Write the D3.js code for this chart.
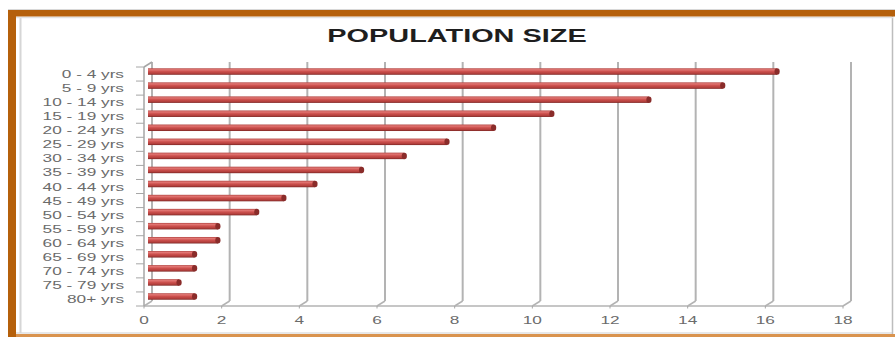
<!DOCTYPE html>
<html>
<head>
<meta charset="utf-8">
<script src="https://cdn.jsdelivr.net/npm/d3@7"></script>
<style>
  html, body { margin: 0; padding: 0; background: #fff; overflow: hidden; }
  svg { display: block; }
  text { font-family: "Liberation Sans", Arial, sans-serif; }
</style>
</head>
<body>
<svg id="chart" width="895" height="337"></svg>
<script>
// Age groups and their share of the population (%)
const categories = ["0 - 4 yrs", "5 - 9 yrs", "10 - 14 yrs", "15 - 19 yrs", "20 - 24 yrs",
  "25 - 29 yrs", "30 - 34 yrs", "35 - 39 yrs", "40 - 44 yrs", "45 - 49 yrs", "50 - 54 yrs",
  "55 - 59 yrs", "60 - 64 yrs", "65 - 69 yrs", "70 - 74 yrs", "75 - 79 yrs", "80+ yrs"];
const values = [16.2, 14.8, 12.9, 10.4, 8.9, 7.7, 6.6, 5.5, 4.3, 3.5, 2.8, 1.8, 1.8, 1.2, 1.2, 0.8, 1.2];
const xTicks = [0, 2, 4, 6, 8, 10, 12, 14, 16, 18];
const chartTitle = "POPULATION SIZE";

const svg = d3.select("#chart");
const W = 895, H = 337;
const stretch = 1.5;           // wide lettering
const depthX = 8, depthY = -5; // 3-D depth offset of the back wall

// frame
svg.append("rect").attr("x", 0).attr("y", 0).attr("width", W).attr("height", H).attr("fill", "#fff");
svg.append("line").attr("x1", 8).attr("x2", W).attr("y1", 9.5).attr("y2", 9.5).attr("stroke", "#d8d8d8").attr("stroke-width", 1);
svg.append("line").attr("x1", 8).attr("x2", W).attr("y1", 335.5).attr("y2", 335.5).attr("stroke", "#d9934e").attr("stroke-width", 3);
svg.append("line").attr("x1", 16).attr("x2", 893).attr("y1", 333).attr("y2", 333).attr("stroke", "#cfcfcf").attr("stroke-width", 1);
svg.append("line").attr("x1", 892.5).attr("x2", 892.5).attr("y1", 16).attr("y2", 334).attr("stroke", "#bdbdbd").attr("stroke-width", 1.5);
svg.append("line").attr("x1", 20.5).attr("x2", 20.5).attr("y1", 17).attr("y2", 333).attr("stroke", "#d6d6d6").attr("stroke-width", 2);
svg.append("line").attr("x1", 16).attr("x2", 893).attr("y1", 17.5).attr("y2", 17.5).attr("stroke", "#e2e2e2").attr("stroke-width", 1.5);
svg.append("rect").attr("x", 8).attr("y", 10).attr("width", W - 8).attr("height", 6.5).attr("fill", "#b5600b");
svg.append("rect").attr("x", 8).attr("y", 10).attr("width", 8).attr("height", H - 10).attr("fill", "#b5600b");

// scales
const x = d3.scaleLinear().domain([0, 18]).range([144, 843]);
const y = d3.scaleBand().domain(categories).range([67, 306]).paddingInner(0).paddingOuter(0);
const floorY = 306, topY = 62;

// gradient for the cylindrical bars
const defs = svg.append("defs");
const grad = defs.append("linearGradient").attr("id", "barGrad").attr("x1", 0).attr("x2", 0).attr("y1", 0).attr("y2", 1);
grad.append("stop").attr("offset", "0%").attr("stop-color", "#b24643");
grad.append("stop").attr("offset", "22%").attr("stop-color", "#e27774");
grad.append("stop").attr("offset", "50%").attr("stop-color", "#cc504d");
grad.append("stop").attr("offset", "80%").attr("stop-color", "#b23f3c");
grad.append("stop").attr("offset", "100%").attr("stop-color", "#7a2523");

const grid = svg.append("g");
// back-wall vertical gridlines
grid.selectAll("line.back").data(xTicks).join("line")
  .attr("x1", d => x(d) + depthX).attr("x2", d => x(d) + depthX)
  .attr("y1", topY).attr("y2", floorY + depthY)
  .attr("stroke", "#b3b3b3").attr("stroke-width", 2);
// floor diagonals at each tick
grid.selectAll("line.diag").data(xTicks).join("line")
  .attr("x1", d => x(d)).attr("x2", d => x(d) + depthX)
  .attr("y1", floorY).attr("y2", floorY + depthY)
  .attr("stroke", "#b3b3b3").attr("stroke-width", 1.5);
// front floor edge
grid.append("line").attr("x1", x(0)).attr("x2", x(18)).attr("y1", floorY).attr("y2", floorY)
  .attr("stroke", "#b3b3b3").attr("stroke-width", 1.5);
// front left axis and top diagonal
grid.append("line").attr("x1", x(0)).attr("x2", x(0)).attr("y1", topY + 5).attr("y2", floorY)
  .attr("stroke", "#a6a6a6").attr("stroke-width", 1.5);
grid.append("line").attr("x1", x(0)).attr("x2", x(0) + depthX).attr("y1", topY + 5).attr("y2", topY)
  .attr("stroke", "#a6a6a6").attr("stroke-width", 1.5);

// category ticks
const bounds = categories.map(c => y(c)).concat([floorY]);
grid.selectAll("line.ytick").data(bounds).join("line")
  .attr("x1", x(0) - 8).attr("x2", x(0))
  .attr("y1", d => d).attr("y2", d => d)
  .attr("stroke", "#a6a6a6").attr("stroke-width", 1);
// value ticks
grid.selectAll("line.xtick").data(xTicks).join("line")
  .attr("x1", d => x(d)).attr("x2", d => x(d))
  .attr("y1", floorY).attr("y2", floorY + 2.5)
  .attr("stroke", "#a6a6a6").attr("stroke-width", 1);

// bars (drawn at mid depth)
const barH = 6.5;
const mid = depthX / 2, midY = depthY / 2;
const bars = svg.append("g");
bars.selectAll("rect").data(values).join("rect")
  .attr("x", x(0) + mid)
  .attr("y", (d, i) => y(categories[i]) + y.bandwidth() / 2 + midY - barH / 2)
  .attr("width", d => x(d) - x(0))
  .attr("height", barH)
  .attr("fill", "url(#barGrad)");
// end caps
bars.selectAll("ellipse").data(values).join("ellipse")
  .attr("cx", d => x(d) + mid)
  .attr("cy", (d, i) => y(categories[i]) + y.bandwidth() / 2 + midY)
  .attr("rx", 2.6).attr("ry", barH / 2)
  .attr("fill", "#8a2c2a");

// category labels
svg.append("g").selectAll("text").data(categories).join("text")
  .attr("transform", d => `translate(124,${y(d) + y.bandwidth() / 2 + 4}) scale(${stretch},1)`)
  .attr("text-anchor", "end")
  .attr("font-size", 11.5)
  .attr("fill", "#6b6b6b")
  .text(d => d);

// value labels
svg.append("g").selectAll("text").data(xTicks).join("text")
  .attr("transform", d => `translate(${x(d)},${floorY + 18}) scale(${stretch},1)`)
  .attr("text-anchor", "middle")
  .attr("font-size", 11.5)
  .attr("fill", "#6b6b6b")
  .text(d => d);

// title
svg.append("text")
  .attr("transform", `translate(457,42) scale(1.52,1)`)
  .attr("text-anchor", "middle")
  .attr("font-size", 19)
  .attr("font-weight", "bold")
  .attr("fill", "#1e1e1e")
  .text(chartTitle);
</script>
</body>
</html>
